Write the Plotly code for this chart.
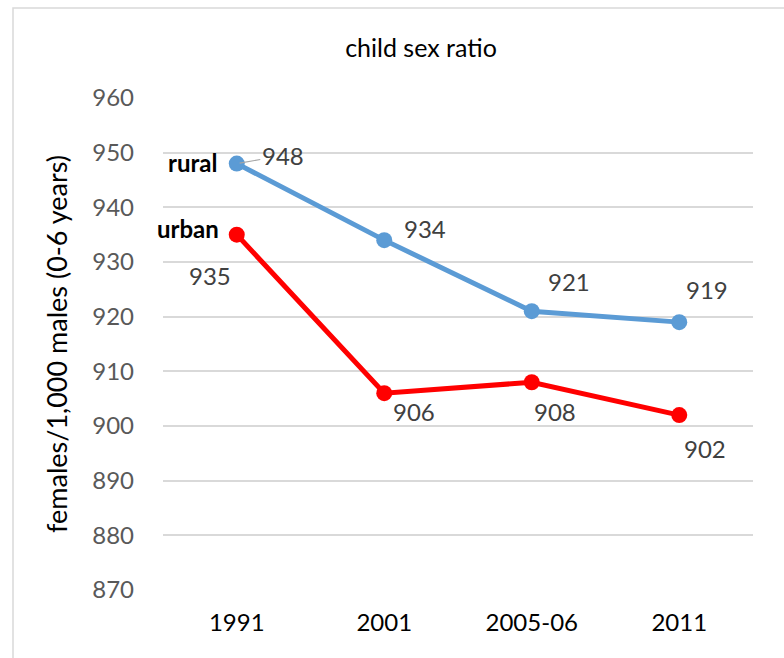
import plotly.graph_objects as go

categories = ["1991", "2001", "2005-06", "2011"]
rural = [948, 934, 921, 919]
urban = [935, 906, 908, 902]
y_ticks = [870, 880, 890, 900, 910, 920, 930, 940, 950, 960]

FONT = "Lato"
L, R, T, B = 163, 31, 98, 68
W, H = 784, 658
pw, ph = W - L - R, H - T - B

fig = go.Figure()
fig.add_trace(go.Scatter(x=categories, y=rural, mode="lines+markers", name="rural",
                         line=dict(color="#5B9BD5", width=5),
                         marker=dict(size=16, color="#5B9BD5")))
fig.add_trace(go.Scatter(x=categories, y=urban, mode="lines+markers", name="urban",
                         line=dict(color="#FF0000", width=5),
                         marker=dict(size=16, color="#FF0000")))

lab_font = dict(family=FONT, size=24, color="#404040")
# data label offsets in pixels (dx right, dy down)
rural_off = [(46, -8), (41, -12), (37, -30), (28, -33)]
urban_off = [(-27, 41), (30, 18), (23, 29), (26, 33)]
ann = []
for i in range(len(categories)):
    dx, dy = rural_off[i]
    if i == 0:
        ann.append(dict(x=i, y=rural[i], text=str(rural[i]), showarrow=True, ax=dx, ay=dy,
                        arrowhead=0, arrowwidth=1.2, arrowcolor="#A6A6A6", standoff=3,
                        font=lab_font))
    else:
        ann.append(dict(x=i, y=rural[i], text=str(rural[i]), showarrow=False,
                        xshift=dx, yshift=-dy, font=lab_font))
    dx, dy = urban_off[i]
    ann.append(dict(x=i, y=urban[i], text=str(urban[i]), showarrow=False,
                    xshift=dx, yshift=-dy, font=lab_font))

ann.append(dict(x=0, y=rural[0], text="<b>rural</b>", showarrow=False,
                xanchor="right", xshift=-18, yshift=1,
                font=dict(family=FONT, size=24, color="#000000")))
ann.append(dict(x=0, y=urban[0], text="<b>urban</b>", showarrow=False,
                xanchor="right", xshift=-16, yshift=6,
                font=dict(family=FONT, size=24, color="#000000")))

fig.update_layout(
    width=W, height=H,
    margin=dict(l=L, r=R, t=T, b=B),
    paper_bgcolor="white", plot_bgcolor="white",
    showlegend=False,
    title=dict(text="child sex ratio", xref="container", x=421 / W, xanchor="center",
               y=1 - 48 / H, yanchor="middle",
               font=dict(family=FONT, size=25, color="#000000")),
    xaxis=dict(type="category", showgrid=False, showline=False, ticks="",
               tickfont=dict(family=FONT, size=24, color="#000000"),
               ticklabelstandoff=16,
               range=[-0.5, 3.5]),
    yaxis=dict(range=[870, 960], tickvals=y_ticks, showgrid=True,
               gridcolor="#D9D9D9", gridwidth=1.5, zeroline=False, showline=False,
               ticks="", ticklabelstandoff=28,
               tickfont=dict(family=FONT, size=24, color="#595959"),
               title=dict(text="females/1,000 males (0-6 years)", standoff=16,
                          font=dict(family=FONT, size=27, color="#000000"))),
    annotations=ann,
    shapes=[dict(type="rect", xref="paper", yref="paper",
                 x0=(13 - L) / pw, x1=(W + 20 - L) / pw,
                 y0=-(H + 20 - (T + ph)) / ph, y1=1 + (T - 8) / ph,
                 line=dict(color="#D9D9D9", width=1.5), layer="below")],
)
fig.write_html("out.html")
